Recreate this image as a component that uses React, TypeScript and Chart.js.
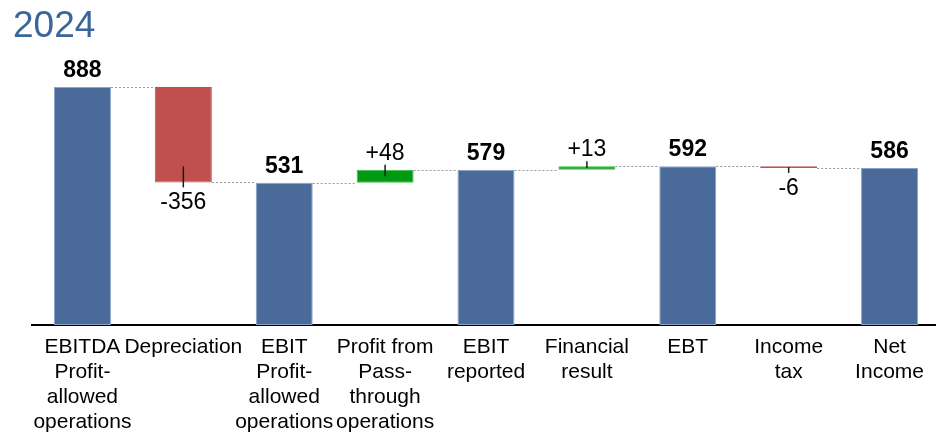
import React, { useEffect, useRef } from "react";
import { Chart, registerables } from "chart.js";

Chart.register(...registerables);

const title = "2024";
const categories: string[][] = [
  ["EBITDA", "Profit-", "allowed", "operations"],
  ["Depreciation"],
  ["EBIT", "Profit-", "allowed", "operations"],
  ["Profit from", "Pass-", "through", "operations"],
  ["EBIT", "reported"],
  ["Financial", "result"],
  ["EBT"],
  ["Income", "tax"],
  ["Net", "Income"],
];
// totals (null where the step is a change)
const totals: (number | null)[] = [888, null, 531, null, 579, null, 592, null, 586];
// changes (null where the step is a total)
const deltas: (number | null)[] = [null, -356, null, 48, null, 13, null, -6, null];

const BLUE = "#4a6a9a";
const BLUE_EDGE = "#8aa2c6";
const RED = "#c0504d";
const GREEN = "#009912";
const GREEN_EDGE = "#40b84a";
const FONT = "'Liberation Sans', Arial, sans-serif";

function buildRanges(): [number, number][] {
  const out: [number, number][] = [];
  let running = 0;
  for (let i = 0; i < categories.length; i++) {
    const t = totals[i];
    const d = deltas[i];
    if (t !== null) {
      out.push([0, t]);
      running = t;
    } else if (d !== null) {
      out.push([running, running + d]);
      running = running + d;
    } else {
      out.push([running, running]);
    }
  }
  return out;
}

const waterfallPlugin = {
  id: "waterfallDecor",
  beforeDatasetsDraw(chart: any) {
    const { ctx } = chart;
    const meta = chart.getDatasetMeta(0);
    const ranges = chart.data.datasets[0].data as [number, number][];
    const yScale = chart.scales.y;
    ctx.save();
    ctx.strokeStyle = "#9a9a9a";
    ctx.lineWidth = 1;
    ctx.setLineDash([2, 2]);
    for (let i = 0; i < meta.data.length - 1; i++) {
      const a = meta.data[i];
      const b = meta.data[i + 1];
      const y = Math.round(yScale.getPixelForValue(ranges[i][1])) + 0.5;
      ctx.beginPath();
      ctx.moveTo(a.x + a.width / 2, y);
      ctx.lineTo(b.x - b.width / 2, y);
      ctx.stroke();
    }
    ctx.restore();
  },
  afterDatasetsDraw(chart: any) {
    const { ctx } = chart;
    const meta = chart.getDatasetMeta(0);
    ctx.save();
    ctx.fillStyle = "#000";
    ctx.textAlign = "center";
    ctx.textBaseline = "alphabetic";
    for (let i = 0; i < meta.data.length; i++) {
      const el = meta.data[i];
      const top = Math.min(el.y, el.base);
      const bottom = Math.max(el.y, el.base);
      const h = bottom - top;
      const inside = Math.min(h / 2, 16);
      const t = totals[i];
      const d = deltas[i];
      if (t !== null) {
        ctx.font = `bold 23px ${FONT}`;
        ctx.fillText(String(t), el.x, top - 10);
      } else if (d !== null) {
        ctx.font = `23px ${FONT}`;
        ctx.strokeStyle = "#1a1a1a";
        ctx.lineWidth = 1.5;
        ctx.setLineDash([]);
        ctx.beginPath();
        if (d >= 0) {
          ctx.moveTo(el.x, top - 5);
          ctx.lineTo(el.x, top + inside);
          ctx.stroke();
          ctx.fillText("+" + d, el.x, top - 10);
        } else {
          ctx.moveTo(el.x, bottom - inside);
          ctx.lineTo(el.x, bottom + 5);
          ctx.stroke();
          ctx.fillText(String(d), el.x, bottom + 27);
        }
      }
    }
    ctx.restore();
  },
  afterDraw(chart: any) {
    const { ctx } = chart;
    ctx.save();
    ctx.fillStyle = "#3a659a";
    ctx.font = `37px ${FONT}`;
    ctx.textAlign = "left";
    ctx.textBaseline = "alphabetic";
    ctx.fillText(title, 13, 37);
    ctx.restore();
  },
};

export default function App() {
  const ref = useRef<HTMLCanvasElement | null>(null);
  useEffect(() => {
    if (!ref.current) return;
    const ranges = buildRanges();
    const bg = categories.map((_, i) =>
      totals[i] !== null ? BLUE : (deltas[i] as number) >= 0 ? GREEN : RED
    );
    const border = categories.map((_, i) =>
      totals[i] !== null ? BLUE_EDGE : (deltas[i] as number) >= 0 ? GREEN_EDGE : RED
    );
    const chart = new Chart(ref.current, {
      type: "bar",
      data: {
        labels: categories,
        datasets: [
          {
            data: ranges as any,
            backgroundColor: bg,
            borderColor: border,
            borderWidth: 1,
            borderSkipped: false,
            categoryPercentage: 1,
            barPercentage: 0.565,
          },
        ],
      },
      options: {
        animation: false,
        responsive: false,
        devicePixelRatio: 1,
        layout: { padding: { left: 32, right: 4, top: 57, bottom: 0 } },
        plugins: {
          legend: { display: false },
          tooltip: { enabled: false },
          title: { display: false },
        },
        scales: {
          x: {
            grid: { display: false, drawTicks: false },
            border: { display: true, color: "#000", width: 2 },
            ticks: {
              color: "#000",
              font: { family: FONT, size: 21, lineHeight: 1.19 },
              padding: 10,
              maxRotation: 0,
              minRotation: 0,
              autoSkip: false,
            },
            afterFit: (scale: any) => {
              scale.height = 115;
            },
          },
          y: {
            display: false,
            min: 0,
            max: 1000,
          },
        },
      },
      plugins: [waterfallPlugin],
    });
    return () => chart.destroy();
  }, []);
  return (
    <div
      style={{
        position: "absolute",
        left: 0,
        top: 0,
        width: 936,
        height: 440,
        overflow: "hidden",
        background: "#fff",
      }}
    >
      <canvas ref={ref} width={944} height={440} style={{ width: 944, height: 440, display: "block" }} />
    </div>
  );
}
